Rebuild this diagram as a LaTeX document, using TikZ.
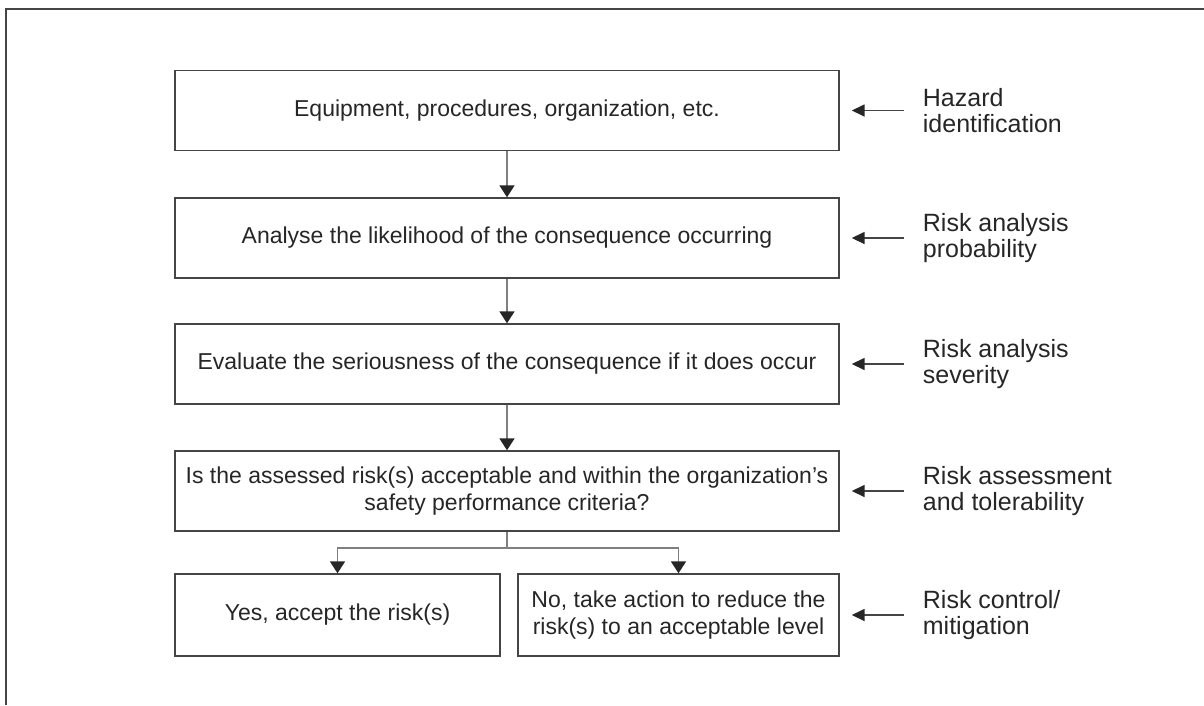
\documentclass[tikz,border=0pt]{standalone}
\usepackage{fontspec}
\setmainfont{Liberation Sans}
\usetikzlibrary{arrows.meta,positioning}
\definecolor{edgegray}{HTML}{454545}
\definecolor{shaftgray}{HTML}{808080}
\definecolor{inkdark}{HTML}{262626}
\tikzset{
	stepbox/.style={draw=edgegray, line width=1.4pt, inner sep=0pt, minimum height=80pt, align=center, text=inkdark, font=\fontsize{23}{26.7}\selectfont},
	sidelabel/.style={inner sep=0pt, align=left, text=inkdark, font=\fontsize{25}{26.7}\selectfont},
	flowarrow/.style={draw=shaftgray, line width=1.8pt, -{Triangle[width=15pt,length=12pt,color=inkdark]}},
	sidearrow/.style={draw=edgegray, line width=1.6pt, -{Triangle[width=12pt,length=13pt,color=inkdark]}, shorten <=19pt, shorten >=12pt}
}
\begin{document}
\begin{tikzpicture}[x=1pt, y=-1pt]
			%%%%% START %%%%%
			\useasboundingbox (0,0) rectangle (1204,705);
			
			\draw[draw=edgegray, line width=1.6pt] (6,705) -- (6,9) -- (1204,9);
			
			\node[stepbox, minimum width=664pt] (eqp) at (507,110.5) {Equipment, procedures, organization, etc.};
			\node[stepbox, minimum width=664pt] (lik) at (507,238) {Analyse the likelihood of the consequence occurring};
			\node[stepbox, minimum width=664pt] (sev) at (507,364) {Evaluate the seriousness of the consequence if it does occur};
			\node[stepbox, minimum width=664pt] (acc) at (507,491) {Is the assessed risk(s) acceptable and within the organization’s\\safety performance criteria?};
			
			\node[stepbox, minimum width=325pt, minimum height=82pt] (yes) at (337.5,615) {Yes, accept the risk(s)};
			\node[stepbox, minimum width=321pt, minimum height=82pt] (no) at (678.5,615) {No, take action to reduce the\\risk(s) to an acceptable level};
			
			\node[sidelabel, right=83pt of eqp] (hz) {Hazard\\identification};
			\node[sidelabel, right=83pt of lik] (prob) {Risk analysis\\probability};
			\node[sidelabel, right=83pt of sev] (sevr) {Risk analysis\\severity};
			\node[sidelabel, right=83pt of acc] (tol) {Risk assessment\\and tolerability};
			\node[sidelabel, right=83pt of no] (mit) {Risk control/\\mitigation};
			
			\draw[flowarrow] (eqp) -- (lik);
			\draw[flowarrow] (lik) -- (sev);
			\draw[flowarrow] (sev) -- (acc);
			
			\coordinate (split) at (507,548);
			\draw[draw=shaftgray, line width=1.8pt] (acc.south) -- (split);
			\draw[flowarrow] (split) -| (yes.north);
			\draw[flowarrow] (split) -| (no.north);
			
			\draw[sidearrow] (hz) -- (eqp);
			\draw[sidearrow] (prob) -- (lik);
			\draw[sidearrow] (sevr) -- (sev);
			\draw[sidearrow] (tol) -- (acc);
			\draw[sidearrow] (mit) -- (no);
			
			%%%%% END %%%%%
\end{tikzpicture}
\end{document}
